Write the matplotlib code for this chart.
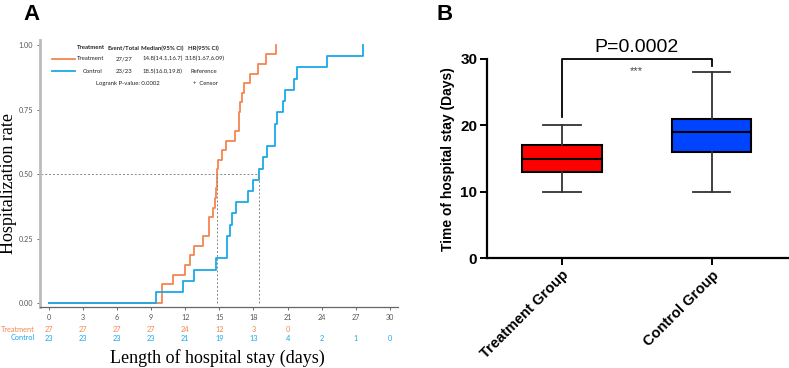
import numpy as np
import matplotlib
matplotlib.use('Agg')
import matplotlib.pyplot as plt

# ---- panel A data ----
treat_times = [10.0, 10.0, 10.9, 12.0, 12.45, 12.75, 13.6, 14.1, 14.1, 14.4, 14.6, 14.75,
               14.8, 14.8, 14.9, 15.2, 15.6, 16.4, 16.7, 16.7, 16.8, 17.0, 17.2, 17.7,
               18.4, 19.1, 20.0]
ctrl_times = [9.47, 11.8, 12.77, 14.7, 15.7, 15.7, 15.96, 16.1, 16.5, 17.5, 18.0, 18.5,
              18.8, 19.2, 19.85, 19.85, 20.05, 20.6, 20.8, 21.6, 21.8, 24.5, 27.6]
risk_days = [0, 3, 6, 9, 12, 15, 18, 21, 24, 27, 30]
treat_risk = [27, 27, 27, 27, 24, 12, 3, 0]
ctrl_risk = [23, 23, 23, 23, 21, 19, 13, 4, 2, 1, 0]
treat_median = 14.8
ctrl_median = 18.5

# ---- panel B data ----
groups = ['Treatment Group', 'Control Group']
q1 = [13, 16]
med = [15, 19]
q3 = [17, 21]
whislo = [10, 10]
whishi = [20, 28]
box_colors = ['#FF0000', '#0044FF']

orange = '#F5864F'
blue = '#1AA9E8'
gray = '#555555'
small = 'Lato'
arial = 'Liberation Sans'

fig = plt.figure(figsize=(7.89, 3.68), dpi=100)

# ================= Panel A =================
ax1 = fig.add_axes([40/789, 1-306.7/368, 358/789, 266.7/368])
for times, col in [(treat_times, orange), (ctrl_times, blue)]:
    n = len(times)
    xs = [0] + list(times)
    ys = [0] + list(np.arange(1, n + 1) / n)
    ax1.step(xs, ys, where='post', color=col, lw=1.3)

ax1.plot([-1, ctrl_median], [0.5, 0.5], ls=(0, (2, 2)), color='#888888', lw=0.7)
for m in [treat_median, ctrl_median]:
    ax1.plot([m, m], [0, 0.5], ls=(0, (2, 2)), color='#888888', lw=0.7)

ax1.set_xlim(-0.76, 30.7)
ax1.set_ylim(-0.013, 1.019)
ax1.set_xticks(risk_days)
ax1.set_yticks([0, 0.25, 0.5, 0.75, 1.0])
ax1.set_yticklabels(['0.00', '0.25', '0.50', '0.75', '1.00'])
ax1.tick_params(labelsize=5.2, colors=gray, length=2, width=0.6, pad=3)
for lab in ax1.get_xticklabels() + ax1.get_yticklabels():
    lab.set_family(small)
ax1.spines['top'].set_visible(False)
ax1.spines['right'].set_visible(False)
ax1.spines['left'].set_color('#BBBBBB')
ax1.spines['left'].set_linewidth(2)
ax1.spines['bottom'].set_color('#666666')
ax1.spines['bottom'].set_linewidth(0.9)

# legend table
tf = dict(fontsize=4.3, ha='center', va='center', color='#222222', family=small)
def dx(px):
    return (px - 48.7) / 11.4
def dy(py):
    return (303.3 - py) / 258.3
ax1.text(dx(90.7), dy(48), 'Treatment', fontweight='bold', **tf)
ax1.text(dx(124), dy(48), 'Event/Total', fontweight='bold', **tf)
ax1.text(dx(163), dy(48), 'Median(95% CI)', fontweight='bold', **tf)
ax1.text(dx(204), dy(48), 'HR(95% CI)', fontweight='bold', **tf)
ax1.plot([dx(51.7), dx(75)], [dy(58.7)] * 2, color=orange, lw=1.3)
ax1.plot([dx(51.7), dx(75)], [dy(71.3)] * 2, color=blue, lw=1.3)
ax1.text(dx(90.7), dy(58.7), 'Treatment', **tf)
ax1.text(dx(124), dy(58.7), '27/27', **tf)
ax1.text(dx(163), dy(58.7), '14.8(14.1,16.7)', **tf)
ax1.text(dx(205), dy(58.7), '3.18(1.67,6.09)', **tf)
ax1.text(dx(93), dy(71.3), 'Control', **tf)
ax1.text(dx(124), dy(71.3), '23/23', **tf)
ax1.text(dx(163), dy(71.3), '18.5(16.0,19.8)', **tf)
ax1.text(dx(204), dy(71.3), 'Reference', **tf)
ax1.text(dx(128), dy(84), 'Logrank P-value: 0.0002', **tf)
ax1.text(dx(205.7), dy(84), '+  Censor', **tf)

# risk table
for i, v in enumerate(treat_risk):
    ax1.text(risk_days[i], dy(329), str(v), fontsize=5.3, color=orange, ha='center',
             va='center', clip_on=False, family=small)
for i, v in enumerate(ctrl_risk):
    ax1.text(risk_days[i], dy(338), str(v), fontsize=5.3, color=blue, ha='center',
             va='center', clip_on=False, family=small)
fig.text(35/789, 1-329/368, 'Treatment', fontsize=5.3, color=orange, ha='right', va='center', family=small)
fig.text(35/789, 1-338/368, 'Control', fontsize=5.3, color=blue, ha='right', va='center', family=small)

fig.text(217/789, 1-358/368, 'Length of hospital stay (days)', fontsize=13,
         family='Liberation Serif', ha='center', va='center')
fig.text(9/789, 1-184/368, 'Hospitalization rate', fontsize=13, rotation=90,
         family='Liberation Serif', ha='center', va='center')
fig.text(31/789, 1-15/368, 'A', fontsize=16, fontweight='bold', ha='center', va='center',
         family=arial)

# ================= Panel B =================
ax2 = fig.add_axes([487/789, 1-258.3/368, 301/789, 199.3/368])
stats = []
for i in range(len(groups)):
    stats.append(dict(q1=q1[i], med=med[i], q3=q3[i], whislo=whislo[i], whishi=whishi[i],
                      label=groups[i]))
bp = ax2.bxp(stats, positions=[1, 2], widths=0.53, patch_artist=True, showfliers=False,
             capwidths=0.25,
             boxprops=dict(lw=1.5, edgecolor='black'),
             medianprops=dict(color='black', lw=1.5),
             whiskerprops=dict(color='#333333', lw=1.3),
             capprops=dict(color='#333333', lw=1.3))
for patch, c in zip(bp['boxes'], box_colors):
    patch.set_facecolor(c)

ax2.set_xlim(0.5, 2.51)
ax2.set_ylim(0, 30)
ax2.set_yticks([0, 10, 20, 30])
ax2.spines['top'].set_visible(False)
ax2.spines['right'].set_visible(False)
for s in ['left', 'bottom']:
    ax2.spines[s].set_linewidth(1.6)
ax2.tick_params(width=1.4, length=5, pad=2)
for lab in ax2.get_yticklabels():
    lab.set_fontsize(11)
    lab.set_fontweight('bold')
    lab.set_family(arial)
ax2.set_xticks([1, 2])
ax2.set_xticklabels(groups, rotation=45, ha='right', rotation_mode='anchor',
                    fontsize=10.5, fontweight='bold', family=arial)
ax2.set_ylabel('Time of hospital stay (Days)', fontsize=10, fontweight='bold', labelpad=4,
               family=arial)

ax2.plot([1, 1, 2, 2], [21.3, 30, 30, 28.9], color='black', lw=1.3, clip_on=False)
ax2.text(1.5, 30.4, 'P=0.0002', fontsize=14, ha='center', va='bottom', family=arial)
ax2.text(1.5, 28.2, '***', fontsize=8, color='#444444', ha='center', va='center', family=arial)
fig.text(445/789, 1-14/368, 'B', fontsize=16, fontweight='bold', ha='center', va='center',
         family=arial)

fig.savefig('out.png', dpi=100)
